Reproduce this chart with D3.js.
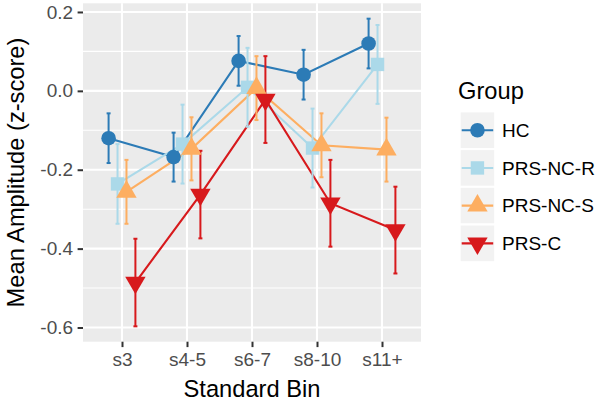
<!DOCTYPE html>
<html>
<head>
<meta charset="utf-8">
<script src="https://cdn.jsdelivr.net/npm/d3@7/dist/d3.min.js"></script>
<style>
  html, body { margin: 0; padding: 0; background: #ffffff; }
  svg { display: block; font-family: "Liberation Sans", Arial, sans-serif; }
</style>
</head>
<body>
<svg id="chart" width="600" height="402"></svg>
<script>
// ---------- data ----------
const categories = ["s3", "s4-5", "s6-7", "s8-10", "s11+"];
const groups = ["HC", "PRS-NC-R", "PRS-NC-S", "PRS-C"];
const colors = ["#2c7bb6", "#abd9e9", "#fdae61", "#d7191c"];
const shapes = ["circle", "square", "triangle", "triangleDown"];

const meanHC   = [-0.120, -0.168, 0.076, 0.041, 0.120];
const seHC     = [0.063, 0.062, 0.063, 0.063, 0.063];
const meanNCR  = [-0.236, -0.135, 0.009, -0.145, 0.067];
const seNCR    = [0.101, 0.100, 0.100, 0.100, 0.100];
const meanNCS  = [-0.256, -0.147, 0.007, -0.138, -0.149];
const seNCS    = [0.081, 0.080, 0.081, 0.081, 0.081];
const meanPRSC = [-0.486, -0.263, -0.022, -0.285, -0.353];
const sePRSC   = [0.111, 0.111, 0.110, 0.110, 0.110];

const yTicks = [0.2, 0.0, -0.2, -0.4, -0.6];
const yTickLabels = ["0.2", "0.0", "-0.2", "-0.4", "-0.6"];
const yMinor = [0.1, -0.1, -0.3, -0.5];
const xTitle = "Standard Bin";
const yTitle = "Mean Amplitude (z-score)";
const legendTitle = "Group";

const means = [meanHC, meanNCR, meanNCS, meanPRSC];
const ses = [seHC, seNCR, seNCS, sePRSC];

const series = groups.map((g, gi) => ({
  name: g, color: colors[gi], shape: shapes[gi], gi,
  values: categories.map((c, ci) => ({
    cat: c, mean: means[gi][ci], lo: means[gi][ci] - ses[gi][ci], hi: means[gi][ci] + ses[gi][ci]
  }))
}));

// ---------- layout ----------
const panel = { left: 83, right: 421, top: 3.3, bottom: 341.7 };
const svg = d3.select("#chart");

const allLo = d3.min(series, s => d3.min(s.values, v => v.lo));
const allHi = d3.max(series, s => d3.max(s.values, v => v.hi));
const pad = (allHi - allLo) * 0.05;
const y = d3.scaleLinear().domain([allLo - pad, allHi + pad]).range([panel.bottom, panel.top]);
const x = d3.scalePoint().domain(categories).range([panel.left, panel.right]).padding(0.6);
const step = x.step();
const dodgeWidth = 0.55;
const dodge = d3.scaleLinear().domain([0, groups.length - 1])
  .range([-(dodgeWidth / 2) * (groups.length - 1) / groups.length * step,
           (dodgeWidth / 2) * (groups.length - 1) / groups.length * step]);
const px = (cat, gi) => x(cat) + dodge(gi);

// panel background
svg.append("rect").attr("x", panel.left).attr("y", panel.top)
  .attr("width", panel.right - panel.left).attr("height", panel.bottom - panel.top)
  .attr("fill", "#ebebeb");

// grid
const grid = svg.append("g");
grid.selectAll(".minor").data(yMinor).join("line")
  .attr("x1", panel.left).attr("x2", panel.right)
  .attr("y1", d => y(d)).attr("y2", d => y(d))
  .attr("stroke", "#ffffff").attr("stroke-width", 1.1);
grid.selectAll(".majorY").data(yTicks).join("line")
  .attr("x1", panel.left).attr("x2", panel.right)
  .attr("y1", d => y(d)).attr("y2", d => y(d))
  .attr("stroke", "#ffffff").attr("stroke-width", 2.1);
grid.selectAll(".majorX").data(categories).join("line")
  .attr("x1", d => x(d)).attr("x2", d => x(d))
  .attr("y1", panel.top).attr("y2", panel.bottom)
  .attr("stroke", "#ffffff").attr("stroke-width", 2.1);

// axes
const yAxis = d3.axisLeft(y).tickValues(yTicks)
  .tickFormat((d, i) => yTickLabels[i]).tickSize(5.4).tickPadding(4.5);
const gy = svg.append("g").attr("transform", `translate(${panel.left},0)`).call(yAxis);
gy.select(".domain").remove();
gy.selectAll(".tick line").attr("stroke", "#333333").attr("stroke-width", 2);
gy.selectAll(".tick text").attr("fill", "#4d4d4d").style("font-size", "19px")
  .style("font-family", "'Liberation Sans', Arial, sans-serif");

const xAxis = d3.axisBottom(x).tickSize(5.4).tickPadding(5);
const gx = svg.append("g").attr("transform", `translate(0,${panel.bottom})`).call(xAxis);
gx.select(".domain").remove();
gx.selectAll(".tick line").attr("stroke", "#333333").attr("stroke-width", 2);
gx.selectAll(".tick text").attr("fill", "#4d4d4d").style("font-size", "19px")
  .style("font-family", "'Liberation Sans', Arial, sans-serif");

// titles
svg.append("text").attr("x", (panel.left + panel.right) / 2).attr("y", 397)
  .attr("text-anchor", "middle").attr("fill", "#000").style("font-size", "23.7px").text(xTitle);
svg.append("text").attr("transform", `translate(24,${(panel.top + panel.bottom) / 2}) rotate(-90)`)
  .attr("text-anchor", "middle").attr("fill", "#000").style("font-size", "23.7px").text(yTitle);

// symbols
function drawSymbol(sel, shape, color, cx, cy) {
  if (shape === "circle") {
    sel.append("circle").attr("cx", cx).attr("cy", cy).attr("r", 7.3).attr("fill", color);
  } else if (shape === "square") {
    sel.append("rect").attr("x", cx - 6.7).attr("y", cy - 6.7).attr("width", 13.4).attr("height", 13.4).attr("fill", color);
  } else {
    const path = d3.symbol().type(d3.symbolTriangle).size(180)();
    sel.append("path").attr("d", path)
      .attr("transform", `translate(${cx},${cy})${shape === "triangleDown" ? " rotate(180)" : ""}`)
      .attr("fill", color);
  }
}

// lines
const line = d3.line().x(d => d.px).y(d => y(d.mean));
const marks = svg.append("g");
series.forEach(s => {
  s.values.forEach(v => v.px = px(v.cat, s.gi));
  marks.append("path").datum(s.values).attr("d", line)
    .attr("fill", "none").attr("stroke", s.color).attr("stroke-width", 2.1);
});
// error bars
const cap = 2;
series.forEach(s => {
  const g = marks.append("g").attr("stroke", s.color).attr("stroke-width", 2);
  s.values.forEach(v => {
    g.append("line").attr("x1", v.px).attr("x2", v.px).attr("y1", y(v.lo)).attr("y2", y(v.hi));
    g.append("line").attr("x1", v.px - cap).attr("x2", v.px + cap).attr("y1", y(v.lo)).attr("y2", y(v.lo));
    g.append("line").attr("x1", v.px - cap).attr("x2", v.px + cap).attr("y1", y(v.hi)).attr("y2", y(v.hi));
  });
});
// points
series.forEach(s => {
  const g = marks.append("g");
  s.values.forEach(v => drawSymbol(g, s.shape, s.color, v.px, y(v.mean)));
});

// legend
const lg = svg.append("g");
lg.append("text").attr("x", 458).attr("y", 99).attr("fill", "#000").style("font-size", "23.7px").text(legendTitle);
const keyH = 37.7, keyW = 35.5, keyX = 459.7, keyY0 = 111.4;
series.forEach((s, i) => {
  const ky = keyY0 + i * keyH;
  const cy = ky + keyH / 2;
  lg.append("rect").attr("x", keyX).attr("y", ky).attr("width", keyW).attr("height", keyH)
    .attr("fill", "#f2f2f2").attr("stroke", "#ffffff").attr("stroke-width", 2);
  lg.append("line").attr("x1", keyX + 2).attr("x2", keyX + keyW - 2).attr("y1", cy).attr("y2", cy)
    .attr("stroke", s.color).attr("stroke-width", 2.1);
  drawSymbol(lg, s.shape, s.color, keyX + keyW / 2, cy);
  lg.append("text").attr("x", 502).attr("y", cy + 6.8).attr("fill", "#000").style("font-size", "19px").text(s.name);
});
</script>
</body>
</html>
